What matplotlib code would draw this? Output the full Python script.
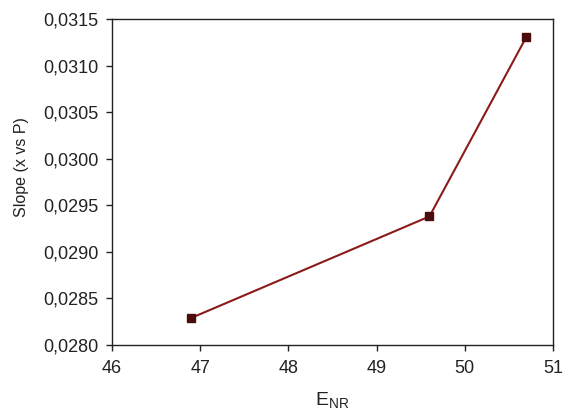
import matplotlib
matplotlib.use('Agg')
import matplotlib.pyplot as plt
from matplotlib.ticker import FuncFormatter

plt.rcParams['font.family'] = ['Liberation Sans', 'DejaVu Sans']

# data
e_nr = [46.9, 49.6, 50.7]
slope = [0.02829, 0.02938, 0.03131]
x_ticks = [46, 47, 48, 49, 50, 51]
y_ticks = [0.0280, 0.0285, 0.0290, 0.0295, 0.0300, 0.0305, 0.0310, 0.0315]

fig = plt.figure(figsize=(5.63, 4.17), dpi=100)
ax = fig.add_axes([0.199, 0.173, 0.783, 0.781])

ax.plot(e_nr, slope, color='#8b1a1a', lw=1.5, marker='s', ms=5.5,
        markerfacecolor='#4a0c0c', markeredgecolor='#4a0c0c')

ax.set_xlim(46, 51)
ax.set_ylim(0.0280, 0.0315)
ax.set_xticks(x_ticks)
ax.set_yticks(y_ticks)
ax.yaxis.set_major_formatter(FuncFormatter(lambda v, p: f"{v:.4f}".replace('.', ',')))

ax.tick_params(labelsize=13, length=4, width=1, direction='out', colors='#222222')
ax.tick_params(axis='x', pad=7)
ax.tick_params(axis='y', pad=6)
for s in ax.spines.values():
    s.set_linewidth(1)
    s.set_color('#222222')

ax.set_xlabel(r'E$_{\mathregular{NR}}$', fontsize=14, color='#222222')
ax.set_ylabel('Slope (x vs P)', fontsize=11.5, color='#222222')
ax.xaxis.set_label_coords(0.5, -0.14)
ax.yaxis.set_label_coords(-0.188, 0.546)

fig.savefig('out.png', dpi=100)
